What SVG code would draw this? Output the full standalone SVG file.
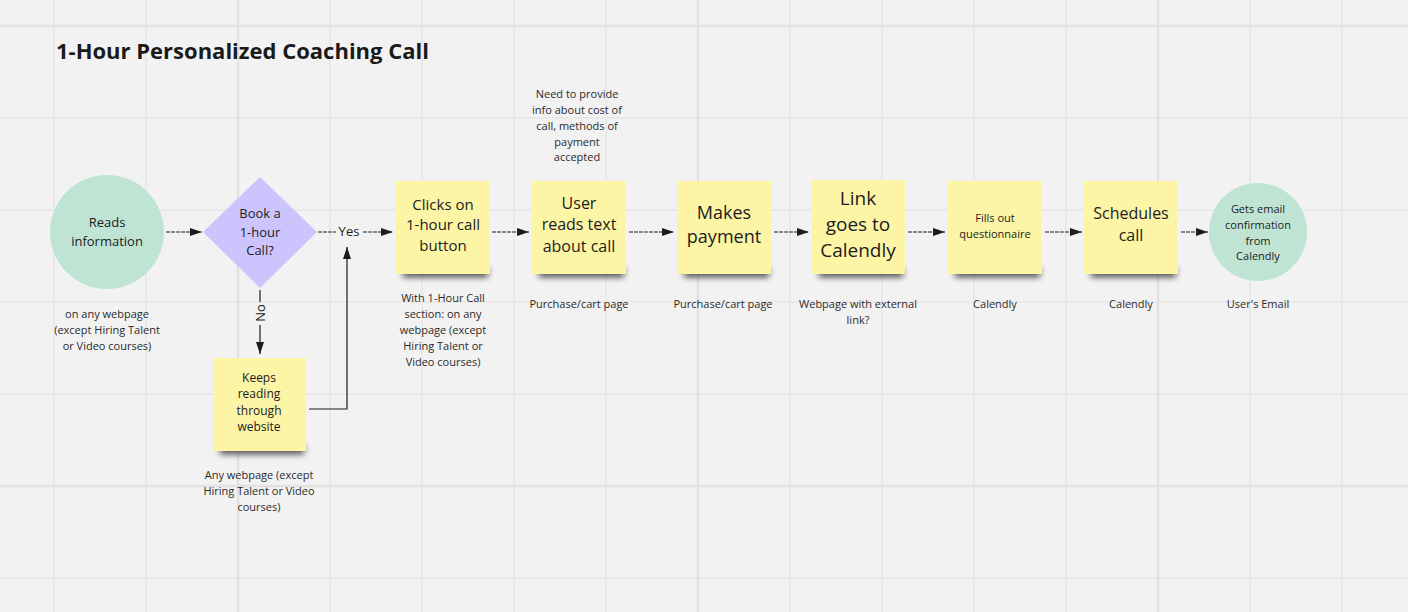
<svg xmlns="http://www.w3.org/2000/svg" width="1408" height="612" viewBox="0 0 1408 612">
<defs>
<style>
text{font-family:"Open Sans","Noto Sans","Liberation Sans",sans-serif;fill:#1c1c1c;text-anchor:middle;dominant-baseline:central}
.gm{stroke:#e9e9e9;stroke-width:2}
.gM{stroke:#e2e2e2;stroke-width:2.5}
.st{fill:#fdf5a6}
.sh{fill:#111;opacity:.75;filter:url(#blur)}
.cir{fill:#bfe4d4}
.dia{fill:#ccc5fd}
.c{fill:none;stroke:#1c1c1c;stroke-width:1.2}
.d{stroke-dasharray:4 1}
.lb{font-size:11px;fill:#2b2b2b}
</style>
<filter id="blur" x="-20%" y="-100%" width="140%" height="300%"><feGaussianBlur stdDeviation="3"/></filter>
<marker id="ah" markerUnits="userSpaceOnUse" markerWidth="13" markerHeight="9" refX="12" refY="4" orient="auto"><path d="M0,0 L12,4 L0,8 Z" fill="#1c1c1c"/></marker>
</defs>
<rect width="1408" height="612" fill="#f2f2f2"/>
<g id="grid">
<path class="gm" d="M54,0V612M146,0V612M330,0V612M422,0V612M514,0V612M606,0V612M790,0V612M882,0V612M974,0V612M1066,0V612M1250,0V612M1342,0V612M0,118H1408M0,210H1408M0,302H1408M0,394H1408M0,578H1408"/>
<path class="gM" d="M238,0V612M698,0V612M1158,0V612M0,26H1408M0,486H1408"/>
</g>
<text id="title" x="56" y="50" style="font-size:22px;font-weight:700;text-anchor:start;fill:#1a1a1a">1-Hour Personalized Coaching Call</text>
<g id="connectors">
<path class="c d" d="M166,232H202" marker-end="url(#ah)"/>
<path class="c d" d="M318,232H336"/>
<path class="c d" d="M363,232H393" marker-end="url(#ah)"/>
<text x="349" y="231" style="font-size:13px">Yes</text>
<path class="c" d="M260,290V302"/>
<path class="c" d="M260,325V354" marker-end="url(#ah)"/>
<text x="260" y="313" transform="rotate(-90 260 313)" style="font-size:13px">No</text>
<path class="c" d="M309,409H347V247" marker-end="url(#ah)"/>
<path class="c d" d="M492,232H529" marker-end="url(#ah)"/>
<path class="c d" d="M629,232H674" marker-end="url(#ah)"/>
<path class="c d" d="M774,232H809" marker-end="url(#ah)"/>
<path class="c d" d="M908,232H945" marker-end="url(#ah)"/>
<path class="c d" d="M1045,232H1082" marker-end="url(#ah)"/>
<path class="c d" d="M1181,232H1208" marker-end="url(#ah)"/>
</g>
<g id="n-reads">
<circle class="cir" cx="107" cy="232" r="57"/>
<text x="107" y="222" style="font-size:13px">Reads</text>
<text x="107" y="241" style="font-size:13px">information</text>
<text class="lb" x="107" y="313">on any webpage</text>
<text class="lb" x="107" y="329">(except Hiring Talent</text>
<text class="lb" x="107" y="345">or Video courses)</text>
</g>
<g id="n-book">
<path class="dia" d="M260,177L317,232L260,288L203,232Z"/>
<text x="260" y="213" style="font-size:13px">Book a</text>
<text x="260" y="232" style="font-size:13px">1-hour</text>
<text x="260" y="250" style="font-size:13px">Call?</text>
</g>
<g id="n-keeps">
<rect class="sh" x="220" y="445" width="84" height="9"/>
<rect class="st" x="213" y="358" width="93" height="93"/>
<text x="259" y="377" style="font-size:12px">Keeps</text>
<text x="259" y="393" style="font-size:12px">reading</text>
<text x="259" y="410" style="font-size:12px">through</text>
<text x="259" y="426" style="font-size:12px">website</text>
<text class="lb" x="259" y="474">Any webpage (except</text>
<text class="lb" x="259" y="490">Hiring Talent or Video</text>
<text class="lb" x="259" y="506">courses)</text>
</g>
<g id="n-clicks">
<rect class="sh" x="403" y="268" width="85" height="9"/>
<rect class="st" x="396" y="181" width="94" height="93"/>
<text x="443" y="204" style="font-size:15px">Clicks on</text>
<text x="443" y="224" style="font-size:15px">1-hour call</text>
<text x="443" y="245" style="font-size:15px">button</text>
<text class="lb" x="443" y="297">With 1-Hour Call</text>
<text class="lb" x="443" y="313">section: on any</text>
<text class="lb" x="443" y="329">webpage (except</text>
<text class="lb" x="443" y="345">Hiring Talent or</text>
<text class="lb" x="443" y="361">Video courses)</text>
</g>
<g id="n-user">
<rect class="sh" x="539" y="268" width="85" height="9"/>
<rect class="st" x="532" y="181" width="94" height="93"/>
<text x="579" y="203" style="font-size:16px">User</text>
<text x="579" y="224" style="font-size:16px">reads text</text>
<text x="579" y="246" style="font-size:16px">about call</text>
<text class="lb" x="579" y="303">Purchase/cart page</text>
<text class="lb" x="577" y="93">Need to provide</text>
<text class="lb" x="577" y="109">info about cost of</text>
<text class="lb" x="577" y="125">call, methods of</text>
<text class="lb" x="577" y="141">payment</text>
<text class="lb" x="577" y="156">accepted</text>
</g>
<g id="n-pay">
<rect class="sh" x="684" y="268" width="85" height="9"/>
<rect class="st" x="677" y="181" width="94" height="93"/>
<text x="724" y="212" style="font-size:18px">Makes</text>
<text x="724" y="236" style="font-size:18px">payment</text>
<text class="lb" x="723" y="303">Purchase/cart page</text>
</g>
<g id="n-link">
<rect class="sh" x="819" y="268" width="84" height="9"/>
<rect class="st" x="812" y="180" width="93" height="94"/>
<text x="858" y="198" style="font-size:19px">Link</text>
<text x="858" y="224" style="font-size:19px">goes to</text>
<text x="858" y="250" style="font-size:19px">Calendly</text>
<text class="lb" x="858" y="303">Webpage with external</text>
<text class="lb" x="858" y="319">link?</text>
</g>
<g id="n-fills">
<rect class="sh" x="955" y="268" width="85" height="9"/>
<rect class="st" x="948" y="181" width="94" height="93"/>
<text x="995" y="217" style="font-size:11px">Fills out</text>
<text x="995" y="233" style="font-size:11px">questionnaire</text>
<text class="lb" x="995" y="303">Calendly</text>
</g>
<g id="n-sched">
<rect class="sh" x="1091" y="268" width="85" height="9"/>
<rect class="st" x="1084" y="181" width="94" height="93"/>
<text x="1131" y="213" style="font-size:16px">Schedules</text>
<text x="1131" y="235" style="font-size:16px">call</text>
<text class="lb" x="1131" y="303">Calendly</text>
</g>
<g id="n-email">
<circle class="cir" cx="1258" cy="232" r="49"/>
<text x="1258" y="208" style="font-size:11px">Gets email</text>
<text x="1258" y="224" style="font-size:11px">confirmation</text>
<text x="1258" y="240" style="font-size:11px">from</text>
<text x="1258" y="255" style="font-size:11px">Calendly</text>
<text class="lb" x="1258" y="303">User's Email</text>
</g>
</svg>
